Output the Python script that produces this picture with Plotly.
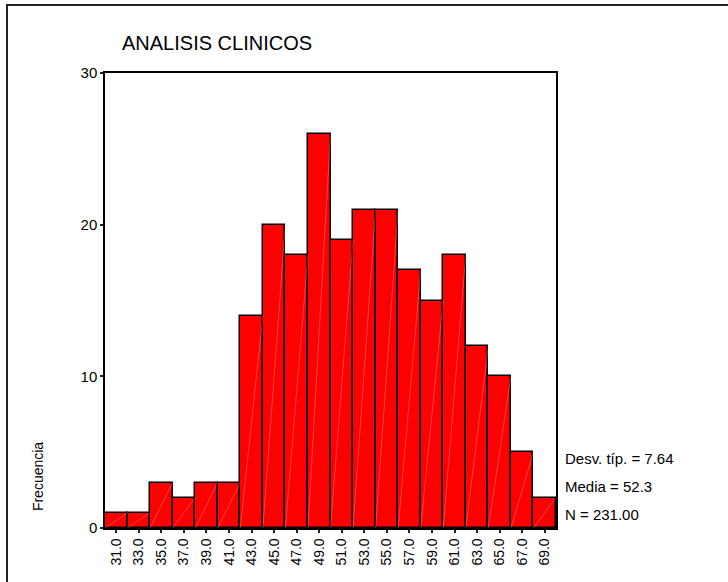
import plotly.graph_objects as go

# Histogram of clinical analysis results (bin midpoints and counts)
bin_centers = [31, 33, 35, 37, 39, 41, 43, 45, 47, 49, 51, 53, 55, 57, 59, 61, 63, 65, 67, 69]
counts = [1, 1, 3, 2, 3, 3, 14, 20, 18, 26, 19, 21, 21, 17, 15, 18, 12, 10, 5, 2]
tick_labels = [f"{v:.1f}" for v in bin_centers]
bin_width = 2

title_text = "ANALISIS CLINICOS"
y_title = "Frecuencia"
stats_lines = ["Desv. típ. = 7.64", "Media = 52.3", "N = 231.00"]

FONT = "Liberation Sans, Arial, sans-serif"

fig = go.Figure()

fig.add_trace(go.Bar(
    x=bin_centers,
    y=counts,
    width=bin_width,
    marker=dict(color="#FF0000", line=dict(color="#000000", width=1.5)),
    showlegend=False,
    hoverinfo="x+y",
))

# faint diagonal highlight across each bar
for c, v in zip(bin_centers, counts):
    fig.add_trace(go.Scatter(
        x=[c - bin_width / 2, c + bin_width / 2],
        y=[0, v],
        mode="lines",
        line=dict(color="rgba(255,255,255,0.25)", width=1),
        showlegend=False,
        hoverinfo="skip",
    ))

fig.update_layout(
    width=728,
    height=582,
    margin=dict(l=105, r=172, t=73, b=54),
    paper_bgcolor="white",
    plot_bgcolor="white",
    font=dict(family=FONT, color="#000000", size=14),
    bargap=0,
    xaxis=dict(
        range=[30, 70],
        tickvals=bin_centers,
        ticktext=tick_labels,
        tickangle=-90,
        ticks="outside",
        ticklen=3,
        tickwidth=2,
        tickcolor="#222",
        showgrid=False,
        zeroline=False,
        showline=True,
        linecolor="#000",
        linewidth=1.5,
        mirror=True,
        tickfont=dict(size=14, family=FONT),
    ),
    yaxis=dict(
        range=[0, 30],
        tickvals=[0, 10, 20, 30],
        ticks="outside",
        ticklen=3,
        tickwidth=2,
        tickcolor="#222",
        showgrid=False,
        zeroline=False,
        showline=True,
        linecolor="#000",
        linewidth=1.5,
        mirror=True,
        tickfont=dict(size=15, family=FONT),
    ),
)

# outer frame (left and top edges visible)
fig.add_shape(
    type="rect", xref="paper", yref="paper",
    x0=-0.2173, x1=1.6, y0=-0.3, y1=1.1495,
    line=dict(color="#222", width=2),
    layer="below",
)

fig.add_annotation(
    text=title_text, xref="paper", yref="paper",
    x=0.033, y=1.0655, xanchor="left", yanchor="middle",
    showarrow=False, font=dict(size=20, family=FONT),
)

fig.add_annotation(
    text=y_title, xref="paper", yref="paper",
    x=-0.1486, y=0.114, xanchor="center", yanchor="middle",
    textangle=-90, showarrow=False, font=dict(size=14, family=FONT),
)

for i, line in enumerate(stats_lines):
    fig.add_annotation(
        text=line, xref="paper", yref="paper",
        x=1.0155, y=0.1525 - i * 0.0615, xanchor="left", yanchor="middle",
        showarrow=False, font=dict(size=15, family=FONT),
    )

fig.write_html("out.html")
